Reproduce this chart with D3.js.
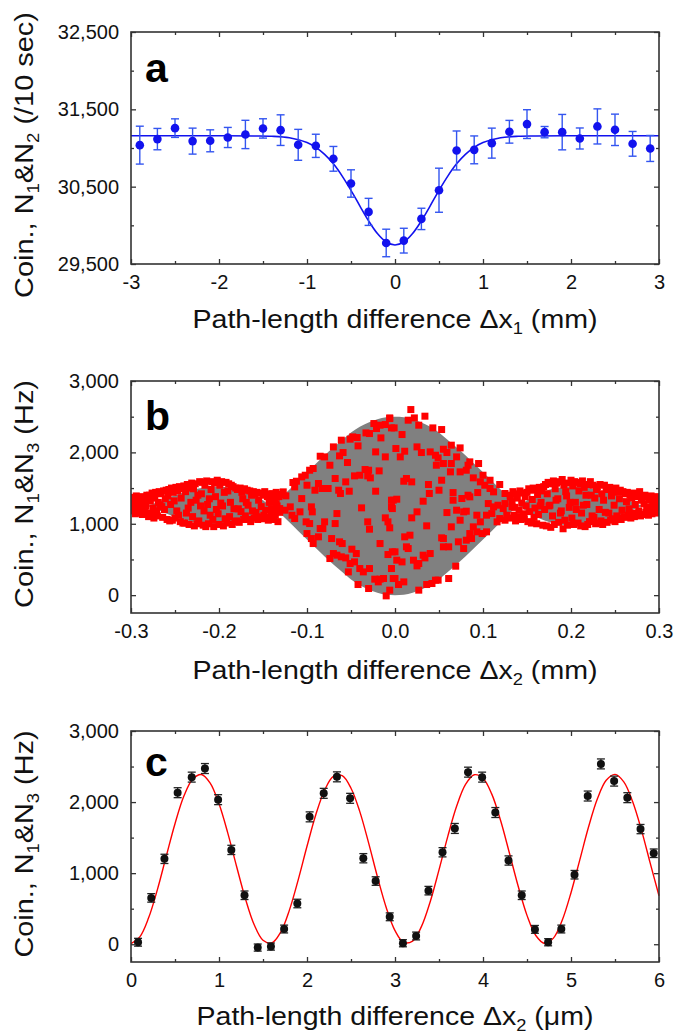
<!DOCTYPE html>
<meta charset="utf-8">
<script src="https://d3js.org/d3.v7.min.js"></script>
<style>
  body { margin: 0; background: #fff; }
  text { font-family: "Liberation Sans", Arial, sans-serif; }
</style>
<div id="chart"></div>
<script>

// ---------- panel a : dip, N1&N2 counts per 10 s ----------
var aX = [-2.9,-2.7,-2.5,-2.3,-2.1,-1.9,-1.7,-1.5,-1.3,-1.1,-0.9,-0.7,-0.5,-0.3,-0.1,
          0.1,0.3,0.5,0.7,0.9,1.1,1.3,1.5,1.7,1.9,2.1,2.3,2.5,2.7,2.9];
var aY = [31037,31115,31257,31089,31093,31136,31175,31253,31231,31041,31028,30860,30541,30174,29772,
          29802,30083,30454,30968,30976,31063,31210,31309,31205,31205,31123,31279,31235,31054,30994];
var aErr = [245,138,120,168,142,130,183,125,198,200,150,160,177,175,178,
            160,138,285,252,180,194,147,186,73,229,136,227,203,160,168];
var aFitX = [-3,-2.5,-2,-1.6,-1.4,-1.2,-1,-0.9,-0.8,-0.7,-0.6,-0.5,-0.4,-0.3,-0.2,-0.1,0,
             0.1,0.2,0.3,0.4,0.5,0.6,0.7,0.8,0.9,1,1.2,1.4,1.6,2,2.5,3];
var aFitY = [31158,31158,31158,31156,31152,31132,31070,31008,30918,30795,30637,30452,30252,30058,29894,29784,29746,
             29784,29894,30058,30252,30452,30637,30795,30918,31008,31070,31132,31152,31156,31158,31158,31158];
var aXTicks = [-3,-2,-1,0,1,2,3], aXMinor = [-2.5,-1.5,-0.5,0.5,1.5,2.5];
var aYTicks = [29500,30500,31500,32500], aYMinor = [30000,31000,32000];

// ---------- panel b : envelope (mm) and scattered points (x in um) ----------
var bEnvX = [-0.30,-0.29,-0.28,-0.27,-0.26,-0.25,-0.24,-0.23,-0.22,-0.21,-0.20,-0.19,-0.18,-0.17,-0.16,-0.15,
             -0.14,-0.13,-0.12,-0.11,-0.10,-0.09,-0.08,-0.07,-0.06,-0.05,-0.04,-0.03,-0.02,-0.01,0,
             0.01,0.02,0.03,0.04,0.05,0.06,0.07,0.08,0.09,0.10,0.11,0.12,0.13,0.14,
             0.15,0.16,0.17,0.18,0.19,0.20,0.21,0.22,0.23,0.24,0.25,0.26,0.27,0.28,0.29,0.30];
var bEnvHi = [1330,1290,1260,1305,1355,1400,1440,1475,1500,1515,1520,1512,1490,1455,1400,1330,
              1250,1360,1480,1600,1720,1840,1960,2070,2175,2280,2360,2420,2465,2493,2500,
              2493,2465,2420,2360,2280,2175,2070,1960,1840,1720,1600,1480,1360,1250,
              1330,1400,1455,1490,1512,1520,1515,1500,1475,1440,1400,1355,1305,1260,1290,1330];
var bEnvLo = [1170,1210,1240,1195,1145,1100,1060,1025,1000,985,980,988,1010,1045,1100,1170,
              1250,1140,1020,900,780,660,540,430,325,220,140,80,35,7,0,
              7,35,80,140,220,325,430,540,660,780,900,1020,1140,1250,
              1170,1100,1045,1010,988,980,985,1000,1025,1060,1100,1145,1195,1240,1210,1170];

var bLeft = [
[-300,1210],[-299,1330],[-298,1180],[-297,1370],[-296,1260],[-295,1140],[-294,1390],[-293,1200],[-292,1300],[-291,1350],
[-290,1160],[-289,1230],[-288,1380],[-287,1130],[-286,1290],[-285,1340],[-284,1170],[-283,1250],[-282,1400],[-281,1150],
[-280,1100],[-279,1400],[-278,1320],[-277,1130],[-276,1430],[-275,1220],[-274,1080],[-273,1360],[-272,1440],[-271,1180],
[-270,1110],[-269,1300],[-268,1450],[-267,1260],[-266,1420],[-265,1240],[-264,1090],[-263,1460],[-262,1200],[-261,1350],
[-260,1470],[-259,1060],[-258,1390],[-257,1480],[-256,1040],[-255,1270],[-254,1500],[-253,1050],[-252,1440],[-251,1320],
[-250,1080],[-249,1510],[-248,1180],[-247,1460],[-246,1120],[-245,1520],[-244,1030],[-243,1360],[-242,1490],[-241,1010],
[-240,1530],[-239,1010],[-238,1450],[-237,1150],[-236,1550],[-235,1220],[-234,990],[-233,1500],[-232,1300],[-231,1570],
[-230,1100],[-229,1490],[-228,970],[-227,1560],[-226,1330],[-225,1000],[-224,1400],[-223,1040],[-222,1590],[-221,1250],
[-220,1420],[-219,1580],[-218,980],[-217,1180],[-216,1540],[-215,960],[-214,1600],[-213,1270],[-212,1000],[-211,1350],
[-210,1120],[-209,1480],[-208,1590],[-207,1060],[-206,960],[-205,1570],[-204,1380],[-203,1200],[-202,1610],[-201,1140],
[-200,990],[-199,1540],[-198,1290],[-197,1590],[-196,1250],[-195,970],[-194,1440],[-193,1070],[-192,1580],[-191,1010],
[-190,1460],[-189,1560],[-188,1100],[-187,1300],[-186,1540],[-185,990],[-184,1520],[-183,1210],[-182,1030],[-181,1500],
[-180,1040],[-179,1480],[-178,1210],[-177,1020],[-176,1500],[-175,1170],[-174,1440],[-173,1350],[-172,1060],[-171,1490],
[-170,1110],[-169,1300],[-168,1470],[-167,1260],[-166,1060],[-165,1460],[-164,1030],[-163,1400],[-162,1180],[-161,1450],
[-160,1080],[-159,1420],[-158,1160],[-157,1440],[-156,1060],[-155,1330],[-154,1100],[-153,1430],[-152,1240],[-151,1070],
[-150,1400],[-149,1120],[-148,1450],[-147,1190],[-146,1090],[-145,1380],[-144,1050],[-143,1300],[-142,1420],[-141,1140],
[-140,1200],[-139,1420],[-138,1060],[-137,1350],[-136,1120],[-135,1440],[-134,1250],[-133,1030],[-132,1380],[-131,1160]];

var bCenter = [
[-6,2483],[-24,2404],[-17,2381],[-11,2390],[-4,2343],[-29,2264],[-21,2334],[-16,2203],[-33,2273],[-43,2208],
[-48,2217],[-51,2185],[-61,2171],[-70,2077],[-42,2091],[-22,2007],[-11,1937],[-59,1998],[-63,1951],[-85,1946],
[-80,1937],[-54,1858],[-74,1820],[-93,1774],[-97,1750],[-102,1680],[-106,1657],[-112,1596],[-116,1578],[-114,1517],
[-100,1540],[-87,1564],[-83,1494],[-91,1470],[-76,1494],[-68,1634],[-56,1587],[-64,1470],[-62,1424],[-52,1456],
[-46,1671],[-40,1680],[-34,1760],[-30,1750],[-31,1671],[-28,1643],[-18,1741],[-22,1456],[-127,1447],[-131,1410],
[-124,1391],[-138,1353],[-142,1307],[-135,1283],[-140,1213],[-136,1167],[-131,1213],[-125,1190],[-119,1237],[-117,1120],
[-114,1073],[-108,1167],[-106,1353],[-95,1237],[-94,1167],[-101,1027],[-97,1003],[-80,1027],[-82,933],[-68,1003],
[-66,1143],[-38,1223],[-29,924],[-31,1027],[-11,1083],[-8,1027],[-6,943],[-4,1330],[-3,1213],[-100,863],
[-95,793],[-93,723],[-87,817],[-85,933],[-72,793],[-63,747],[-60,723],[-49,644],[-44,583],[-17,723],
[-8,569],[-3,607],[-74,513],[-70,583],[-66,560],[-61,537],[-56,522],[-51,443],[-46,466],[-53,326],
[-40,373],[-36,326],[-29,373],[-23,224],[-17,224],[-13,233],[-19,186],[-42,149],[-30,93],[-10,-10],[-2,233],
[18,2600],[22,2483],[15,2451],[34,2507],[27,2381],[-1,2343],[-6,2474],[8,2250],[43,2343],[53,2320],
[25,2077],[1,2054],[11,2016],[6,1937],[30,1998],[40,2007],[46,1960],[55,2044],[59,1998],[64,2101],
[74,2063],[70,1937],[64,1844],[49,1923],[47,1820],[55,1844],[85,1867],[83,1820],[95,1844],[81,1750],
[74,1727],[63,1727],[89,1643],[100,1680],[97,1587],[108,1610],[102,1540],[108,1494],[119,1550],[112,1447],
[125,1424],[131,1377],[125,1283],[117,1260],[106,1283],[112,1237],[123,1213],[133,1237],[110,1143],[104,1120],
[119,1073],[116,1027],[125,1050],[127,1120],[93,1120],[97,1027],[89,957],[104,887],[99,863],[93,887],
[85,863],[87,793],[81,770],[72,747],[78,653],[61,677],[55,677],[55,793],[64,957],[74,1050],
[78,1167],[70,1190],[81,1176],[59,1157],[38,1550],[39,1424],[50,1470],[53,1610],[66,1437],[66,1330],
[76,1354],[85,1377],[94,1437],[83,1400],[32,1316],[36,971],[10,1596],[13,1634],[19,1587],[-2,1330],
[2,1344],[-4,1237],[25,1167],[19,1083],[11,817],[17,840],[13,677],[15,653],[0,607],[2,490],
[8,466],[21,490],[27,443],[25,410],[32,560],[40,583],[34,522],[-4,373],[0,233],[4,149],
[10,186],[-6,70],[27,70],[36,149],[42,163],[46,210],[49,210],[61,233],[69,406],[53,803]];

var bRight = [
[131,1400],[132,1080],[133,1310],[134,1450],[135,1120],[136,1230],[137,1040],[138,1420],[139,1360],[140,1100],
[141,1190],[142,1460],[143,1060],[144,1290],[145,1430],[146,1140],[147,1070],[148,1380],[149,1250],[150,1440],
[151,1030],[152,1490],[153,1170],[154,1470],[155,1010],[156,1340],[157,1500],[158,1090],[159,1220],[160,1480],
[161,1000],[162,1410],[163,1130],[164,1510],[165,1250],[166,1300],[167,1460],[168,980],[169,1520],[170,1200],
[171,1550],[172,970],[173,1420],[174,1580],[175,1250],[176,1260],[177,950],[178,1560],[179,1110],[180,1600],
[181,990],[182,1490],[183,1330],[184,1570],[185,1350],[186,1020],[187,1590],[188,1150],[189,1180],[190,1620],
[191,930],[192,1540],[193,1050],[194,1450],[195,1390],[196,980],[197,1570],[198,1230],[199,1300],[200,1610],
[201,1080],[202,1530],[203,990],[204,1590],[205,1300],[206,1200],[207,1580],[208,1010],[209,1460],[210,1560],
[211,970],[212,1150],[213,1600],[214,1260],[215,1510],[216,960],[217,1400],[218,1270],[219,990],[220,1550],
[221,1030],[222,1590],[223,1400],[224,1110],[225,1540],[226,1090],[227,1360],[228,1000],[229,1480],[230,1520],
[231,1010],[232,1200],[233,1550],[234,1040],[235,1420],[236,990],[237,1330],[238,1540],[239,1160],[240,1490],
[241,1020],[242,1480],[243,1150],[244,1510],[245,1050],[246,1390],[247,1070],[248,1460],[249,1260],[250,1030],
[251,1500],[252,1110],[253,1440],[254,1080],[255,1350],[256,1470],[257,1060],[258,1190],[259,1450],[260,1100],
[261,1420],[262,1090],[263,1310],[264,1440],[265,1120],[266,1210],[267,1400],[268,1080],[269,1360],[270,1150],
[271,1430],[272,1100],[273,1270],[274,1410],[275,1130],[276,1380],[277,1180],[278,1450],[279,1110],[280,1330],
[281,1370],[282,1130],[283,1280],[284,1400],[285,1160],[286,1230],[287,1380],[288,1120],[289,1330],[290,1190],
[291,1390],[292,1140],[293,1260],[294,1360],[295,1170],[296,1310],[297,1150],[298,1380],[299,1220],[300,1290]];

var bXTicks = [-0.3,-0.2,-0.1,0,0.1,0.2,0.3], bXMinor = [-0.25,-0.15,-0.05,0.05,0.15,0.25];
var bYTicks = [0,1000,2000,3000], bYMinor = [500,1500,2500];

// ---------- panel c : fringes (um) ----------
var cX = [0.08,0.23,0.38,0.53,0.69,0.84,0.99,1.14,1.29,1.44,1.59,1.74,1.89,2.03,2.19,2.34,2.49,2.64,2.78,2.94,
          3.09,3.24,3.38,3.54,3.68,3.83,3.99,4.14,4.29,4.44,4.59,4.74,4.89,5.04,5.19,5.34,5.49,5.64,5.79,5.94];
var cY = [28,652,1201,2132,2351,2472,2034,1327,689,-47,-33,214,573,1792,2123,2355,2053,1210,889,386,
          14,116,754,1294,1629,2421,2351,1853,1178,689,209,28,214,978,2085,2537,2295,2062,1620,1280];
var cErr = [55,60,65,70,70,70,70,65,60,50,50,55,60,70,70,70,70,65,60,55,
            50,55,60,65,70,70,70,70,65,60,55,50,55,60,70,70,70,70,65,60];
var cFitX = [0,0.1,0.2,0.3,0.4,0.5,0.6,0.7,0.8,0.9,1,1.1,1.2,1.3,1.4,1.5,1.6,1.7,1.8,1.9,
             2,2.1,2.2,2.3,2.4,2.5,2.6,2.7,2.8,2.9,3,3.1,3.2,3.3,3.4,3.5,3.6,3.7,3.8,3.9,
             4,4.1,4.2,4.3,4.4,4.5,4.6,4.7,4.8,4.9,5,5.1,5.2,5.3,5.4,5.5,5.6,5.7,5.8,5.9,6];
var cFitY = [10,104,371,769,1236,1696,2081,2322,2388,2266,1975,1564,1094,641,274,56,18,167,480,906,
             1378,1822,2167,2361,2371,2195,1866,1426,951,518,192,25,44,247,598,1046,1518,1940,2244,2384,
             2336,2112,1740,1283,816,406,123,11,86,337,725,1187,1652,2046,2306,2390,2285,2008,1609,1141,682];
var cXTicks = [0,1,2,3,4,5,6], cXMinor = [0.5,1.5,2.5,3.5,4.5,5.5];
var cYTicks = [0,1000,2000,3000], cYMinor = [500,1500,2500];

// ---------- layout ----------
var W = 677, H = 1036;
var left = 131, right = 659;
var svg = d3.select("#chart").append("svg")
    .attr("width", W).attr("height", H);

var frameColor = "#333";

function drawAxes(x, y, top, bottom, xt, xm, yt, ym, fx, fy) {
  var g = svg.append("g");
  function tidy(sel) {
    sel.select(".domain").remove();
    sel.selectAll("line").attr("stroke", frameColor).attr("stroke-width", 1.3);
    sel.selectAll("text").attr("font-size", 20).attr("fill", "#111")
       .attr("font-family", "'Liberation Sans', Arial, sans-serif");
  }
  // labelled axes
  g.append("g").attr("transform", "translate(0," + bottom + ")")
    .call(d3.axisBottom(x).tickValues(xt).tickSizeInner(-5).tickSizeOuter(0).tickPadding(11).tickFormat(fx))
    .call(tidy);
  g.append("g").attr("transform", "translate(" + left + ",0)")
    .call(d3.axisLeft(y).tickValues(yt).tickSizeInner(-5).tickSizeOuter(0).tickPadding(12).tickFormat(fy))
    .call(tidy);
  // mirrored, unlabelled
  g.append("g").attr("transform", "translate(0," + top + ")")
    .call(d3.axisTop(x).tickValues(xt).tickSizeInner(-5).tickSizeOuter(0).tickFormat(""))
    .call(tidy);
  g.append("g").attr("transform", "translate(" + right + ",0)")
    .call(d3.axisRight(y).tickValues(yt).tickSizeInner(-5).tickSizeOuter(0).tickFormat(""))
    .call(tidy);
  // minor ticks
  g.append("g").attr("transform", "translate(0," + bottom + ")")
    .call(d3.axisBottom(x).tickValues(xm).tickSize(-3).tickFormat("")).call(tidy);
  g.append("g").attr("transform", "translate(0," + top + ")")
    .call(d3.axisTop(x).tickValues(xm).tickSize(-3).tickFormat("")).call(tidy);
  g.append("g").attr("transform", "translate(" + left + ",0)")
    .call(d3.axisLeft(y).tickValues(ym).tickSize(-3).tickFormat("")).call(tidy);
  g.append("g").attr("transform", "translate(" + right + ",0)")
    .call(d3.axisRight(y).tickValues(ym).tickSize(-3).tickFormat("")).call(tidy);
  // frame
  g.append("rect")
    .attr("x", left).attr("y", top)
    .attr("width", right - left).attr("height", bottom - top)
    .attr("fill", "none").attr("stroke", frameColor).attr("stroke-width", 1.6);
}

// x title with subscript, stretched to the measured width
function xTitle(cy, sub, unit, len) {
  var t = svg.append("text")
    .attr("x", (left + right) / 2).attr("y", cy)
    .attr("text-anchor", "middle").attr("font-size", 25).attr("fill", "#111")
    .attr("textLength", len).attr("lengthAdjust", "spacingAndGlyphs");
  t.append("tspan").text("Path-length difference \u0394x");
  t.append("tspan").attr("font-size", 16).attr("dy", 6).text(sub);
  t.append("tspan").attr("dy", -6).text(" (" + unit + ")");
}

// rotated y title
function yTitle(cy, n2, rest, len) {
  var t = svg.append("text")
    .attr("transform", "translate(33," + cy + ") rotate(-90)")
    .attr("text-anchor", "middle").attr("font-size", 25).attr("fill", "#111")
    .attr("textLength", len).attr("lengthAdjust", "spacingAndGlyphs");
  t.append("tspan").text("Coin., N");
  t.append("tspan").attr("font-size", 16).attr("dy", 6).text("1");
  t.append("tspan").attr("dy", -6).text("&N");
  t.append("tspan").attr("font-size", 16).attr("dy", 6).text(n2);
  t.append("tspan").attr("dy", -6).text(" " + rest);
}

function panelLabel(txt, x, y) {
  svg.append("text").attr("x", x).attr("y", y)
    .attr("font-family", "'Open Sans', 'Noto Sans', sans-serif")
    .attr("font-weight", "bold").attr("font-size", 41).attr("fill", "#000")
    .text(txt);
}

// ================= panel a =================
var xA = d3.scaleLinear().domain([-3, 3]).range([left, right]);
var yA = d3.scaleLinear().domain([29500, 32500]).range([264, 32]);
var blue = "#1212ee", blueBar = "#3355f0";

svg.append("path")
  .datum(aFitX.map(function(d, i) { return [d, aFitY[i]]; }))
  .attr("fill", "none").attr("stroke", blue).attr("stroke-width", 1.6)
  .attr("d", d3.line().x(function(d) { return xA(d[0]); }).y(function(d) { return yA(d[1]); })
    .curve(d3.curveCatmullRom));

var aPts = aX.map(function(d, i) { return {x: d, y: aY[i], e: aErr[i]}; });
var aBars = svg.append("g").attr("stroke", blueBar).attr("stroke-width", 1.4);
aBars.selectAll(".v").data(aPts).enter().append("line")
  .attr("x1", function(d) { return xA(d.x); }).attr("x2", function(d) { return xA(d.x); })
  .attr("y1", function(d) { return yA(d.y - d.e); }).attr("y2", function(d) { return yA(d.y + d.e); });
aBars.selectAll(".t").data(aPts).enter().append("line")
  .attr("x1", function(d) { return xA(d.x) - 4; }).attr("x2", function(d) { return xA(d.x) + 4; })
  .attr("y1", function(d) { return yA(d.y + d.e); }).attr("y2", function(d) { return yA(d.y + d.e); });
aBars.selectAll(".b").data(aPts).enter().append("line")
  .attr("x1", function(d) { return xA(d.x) - 4; }).attr("x2", function(d) { return xA(d.x) + 4; })
  .attr("y1", function(d) { return yA(d.y - d.e); }).attr("y2", function(d) { return yA(d.y - d.e); });
svg.append("g").selectAll("circle").data(aPts).enter().append("circle")
  .attr("cx", function(d) { return xA(d.x); }).attr("cy", function(d) { return yA(d.y); })
  .attr("r", 4.3).attr("fill", blue);

drawAxes(xA, yA, 32, 264, aXTicks, aXMinor, aYTicks, aYMinor,
  function(d) { return String(d); }, d3.format(","));
panelLabel("a", 145, 82);
xTitle(328, "1", "mm", 405);
yTitle(155, "2", "(/10 sec)", 286);

// ================= panel b =================
var xB = d3.scaleLinear().domain([-0.3, 0.3]).range([left, right]);
var yB = d3.scaleLinear().domain([-250, 3000]).range([613, 381]);

svg.append("clipPath").attr("id", "clipB").append("rect")
  .attr("x", left).attr("y", 381).attr("width", right - left).attr("height", 613 - 381);

svg.append("path")
  .datum(bEnvX.map(function(d, i) { return [d, bEnvLo[i], bEnvHi[i]]; }))
  .attr("fill", "#808080")
  .attr("d", d3.area().x(function(d) { return xB(d[0]); })
    .y0(function(d) { return yB(d[1]); }).y1(function(d) { return yB(d[2]); })
    .curve(d3.curveMonotoneX));

var bAll = bLeft.concat(bCenter, bRight);
var sq = 7;
svg.append("g").attr("clip-path", "url(#clipB)")
  .selectAll("rect").data(bAll).enter().append("rect")
  .attr("x", function(d) { return xB(d[0] / 1000) - sq / 2; })
  .attr("y", function(d) { return yB(d[1]) - sq / 2; })
  .attr("width", sq).attr("height", sq).attr("fill", "#ff0000");

drawAxes(xB, yB, 381, 613, bXTicks, bXMinor, bYTicks, bYMinor,
  function(d) { return d.toFixed(1); }, d3.format(","));
panelLabel("b", 145, 430);
xTitle(679, "2", "mm", 405);
yTitle(494, "3", "(Hz)", 228);

// ================= panel c =================
var xC = d3.scaleLinear().domain([0, 6]).range([left, right]);
var yC = d3.scaleLinear().domain([-250, 3000]).range([962, 731]);

svg.append("path")
  .datum(cFitX.map(function(d, i) { return [d, cFitY[i]]; }))
  .attr("fill", "none").attr("stroke", "#ff0000").attr("stroke-width", 1.4)
  .attr("d", d3.line().x(function(d) { return xC(d[0]); }).y(function(d) { return yC(d[1]); })
    .curve(d3.curveCatmullRom));

var cPts = cX.map(function(d, i) { return {x: d, y: cY[i], e: cErr[i]}; });
var cBars = svg.append("g").attr("stroke", "#222").attr("stroke-width", 1.3);
cBars.selectAll(".v").data(cPts).enter().append("line")
  .attr("x1", function(d) { return xC(d.x); }).attr("x2", function(d) { return xC(d.x); })
  .attr("y1", function(d) { return yC(d.y - d.e); }).attr("y2", function(d) { return yC(d.y + d.e); });
cBars.selectAll(".t").data(cPts).enter().append("line")
  .attr("x1", function(d) { return xC(d.x) - 4; }).attr("x2", function(d) { return xC(d.x) + 4; })
  .attr("y1", function(d) { return yC(d.y + d.e); }).attr("y2", function(d) { return yC(d.y + d.e); });
cBars.selectAll(".b").data(cPts).enter().append("line")
  .attr("x1", function(d) { return xC(d.x) - 4; }).attr("x2", function(d) { return xC(d.x) + 4; })
  .attr("y1", function(d) { return yC(d.y - d.e); }).attr("y2", function(d) { return yC(d.y - d.e); });
svg.append("g").selectAll("circle").data(cPts).enter().append("circle")
  .attr("cx", function(d) { return xC(d.x); }).attr("cy", function(d) { return yC(d.y); })
  .attr("r", 4).attr("fill", "#111");

drawAxes(xC, yC, 731, 962, cXTicks, cXMinor, cYTicks, cYMinor,
  function(d) { return String(d); }, d3.format(","));
panelLabel("c", 145, 776);
xTitle(1025, "2", "\u03bcm", 397);
yTitle(844, "3", "(Hz)", 227);

</script>
